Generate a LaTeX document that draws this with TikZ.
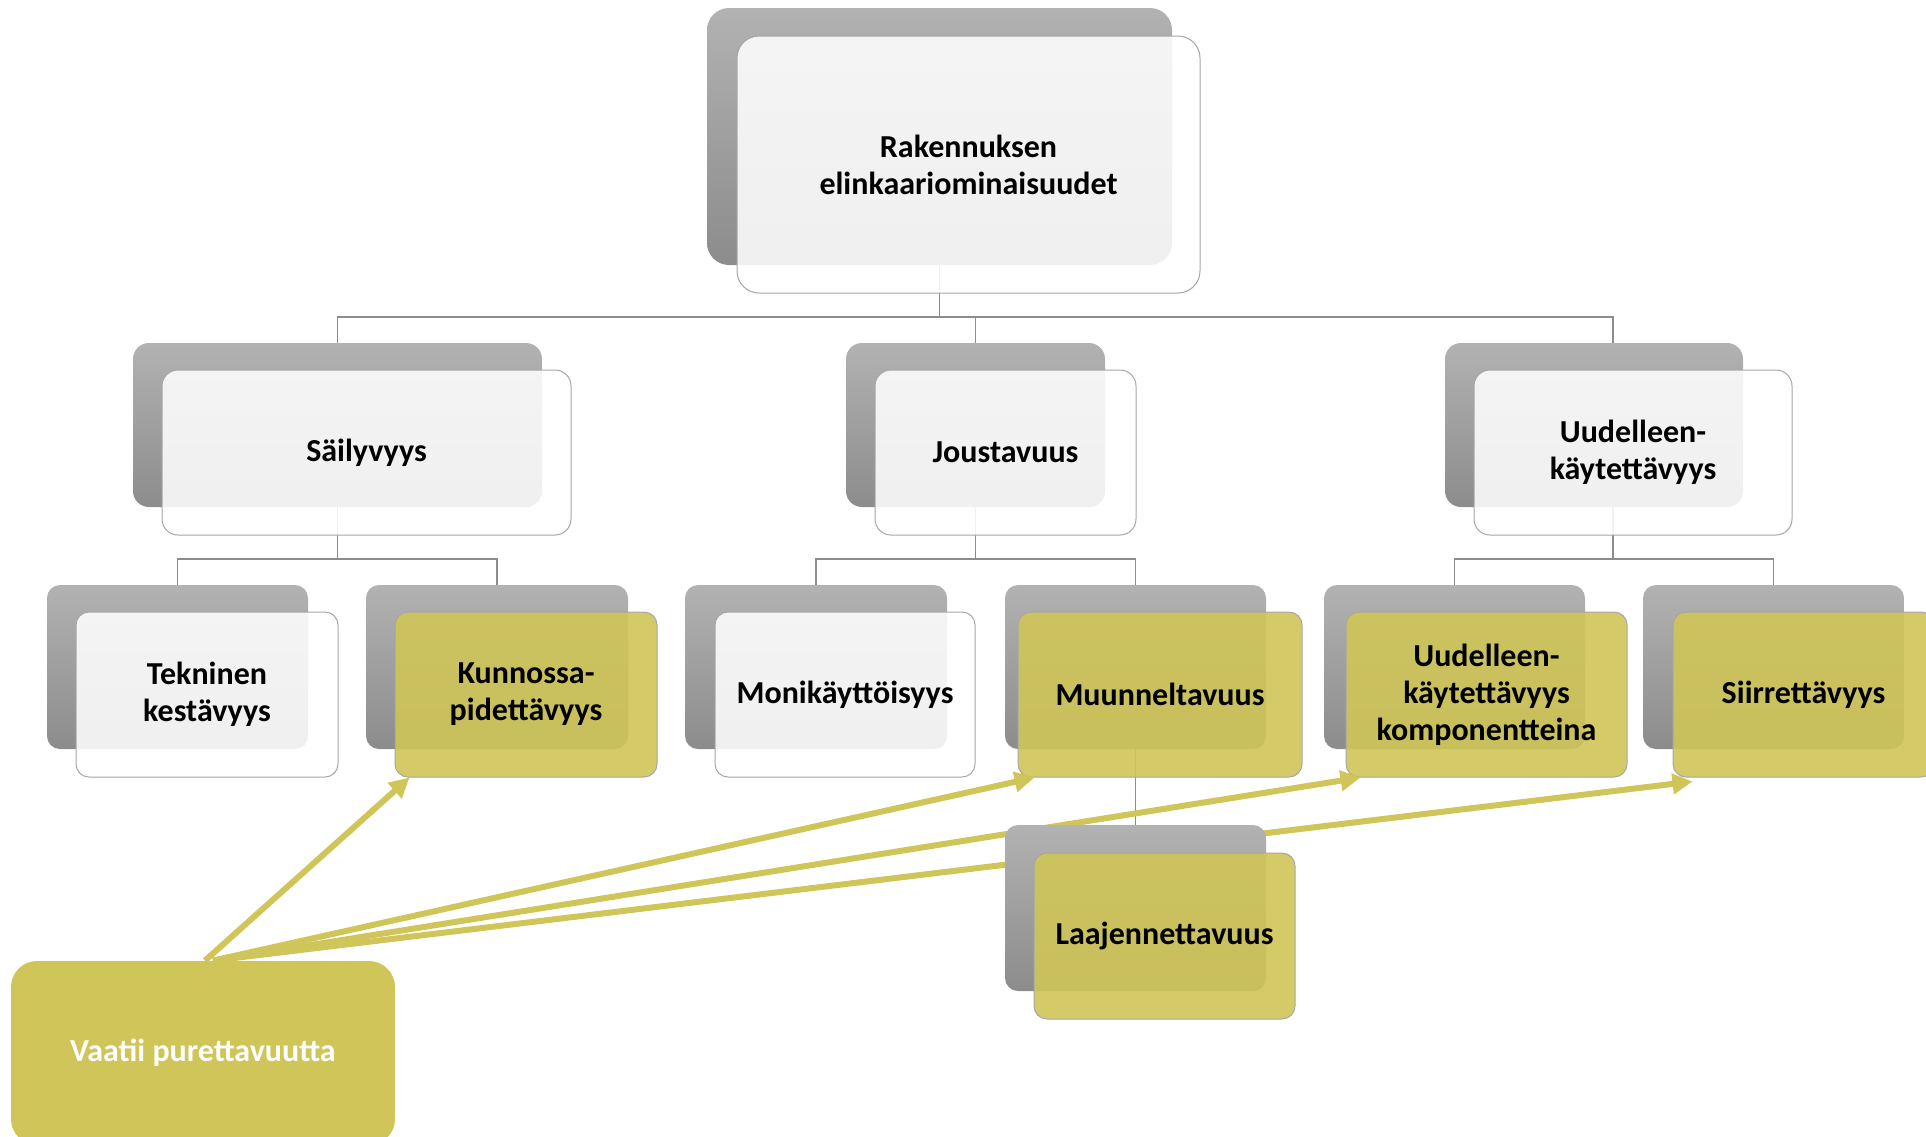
\documentclass[tikz,border=0pt]{standalone}
\usepackage{fontspec}
\setmainfont{Carlito}
\usepackage{tikz}
\usetikzlibrary{arrows.meta, backgrounds}
\definecolor{shadetop}{RGB}{178,178,178}
\definecolor{shadebot}{RGB}{140,140,140}
\definecolor{framegray}{RGB}{166,166,166}
\definecolor{conngray}{RGB}{140,140,140}
\definecolor{mustard}{RGB}{207,197,88}
\newcommand\boxfont{\fontsize{16}{18.5}\selectfont\bfseries}
\tikzstyle{backbox}   = [rectangle, rounded corners=6.5pt, inner sep=0pt, top color=shadetop, bottom color=shadebot, draw=none]
\tikzstyle{frontbox}  = [rectangle, rounded corners=6.5pt, inner sep=0pt, draw=framegray, line width=0.5pt, fill=white, fill opacity=0.87, text opacity=1, align=center, font=\boxfont]
\tikzstyle{yellowbox} = [frontbox, fill=mustard, fill opacity=0.9]
\tikzstyle{conn}      = [draw=conngray, line width=0.6pt]
\tikzstyle{needarrow} = [line width=3pt, draw=mustard, -{Triangle[length=10pt,width=10pt]}]

\begin{document}
\begin{tikzpicture}[x=0.5pt,y=-0.5pt]
      \useasboundingbox (0,0) rectangle (1926,1136);
      % Nodes
      %% Top level
      \node (top_back)   [backbox, rounded corners=11pt, minimum width=232.5pt, minimum height=128.5pt] at (939.5,136.5) {};
      \node (top)        [frontbox, rounded corners=11pt, minimum width=231.5pt, minimum height=128.5pt] at (968.5,164.5) {Rakennuksen\\elinkaariominaisuudet};
      %% Second level
      \node (saily_back) [backbox, rounded corners=8pt, minimum width=204.5pt, minimum height=82pt]   at (337.5,425) {};
      \node (saily)      [frontbox, rounded corners=8pt, minimum width=204.5pt, minimum height=82.5pt] at (366.5,452.5) {Säilyvyys};
      \node (joust_back) [backbox, rounded corners=8pt, minimum width=129.5pt, minimum height=82pt]   at (975.5,425) {};
      \node (joust)      [frontbox, rounded corners=8pt, minimum width=130.5pt, minimum height=82.5pt] at (1005.5,452.5) {Joustavuus};
      \node (reuse_back) [backbox, rounded corners=8pt, minimum width=149pt, minimum height=82pt]     at (1594,425) {};
      \node (reuse)      [frontbox, rounded corners=8pt, minimum width=159pt, minimum height=82.5pt]   at (1633,452.5) {Uudelleen-\\käytettävyys};
      %% Third level
      \node (tekn_back)  [backbox, minimum width=130.5pt, minimum height=82pt]    at (177.5,667) {};
      \node (tekn)       [frontbox, minimum width=131pt, minimum height=82.5pt]   at (207,694.5) {Tekninen\\kestävyys};
      \node (kunn_back)  [backbox, minimum width=131pt, minimum height=82pt]      at (497,667) {};
      \node (kunn)       [yellowbox, minimum width=131pt, minimum height=82.5pt]  at (526,694.5) {Kunnossa-\\pidettävyys};
      \node (moni_back)  [backbox, minimum width=131pt, minimum height=82pt]      at (816,667) {};
      \node (moni)       [frontbox, minimum width=130pt, minimum height=82.5pt]   at (845,694.5) {Monikäyttöisyys};
      \node (muun_back)  [backbox, minimum width=130.5pt, minimum height=82pt]    at (1135.5,667) {};
      \node (muun)       [yellowbox, minimum width=142pt, minimum height=82.5pt]  at (1160,694.5) {Muunneltavuus};
      \node (komp_back)  [backbox, minimum width=130.5pt, minimum height=82pt]    at (1454.5,667) {};
      \node (komp)       [yellowbox, minimum width=140.5pt, minimum height=82.5pt] at (1486.5,694.5) {Uudelleen-\\käytettävyys\\komponentteina};
      \node (siir_back)  [backbox, minimum width=130.5pt, minimum height=82pt]    at (1773.5,667) {};
      \node (siir)       [yellowbox, minimum width=130.5pt, minimum height=82.5pt] at (1803.5,694.5) {Siirrettävyys};
      %% Requirement box
      \node (vaatii)     [rectangle, rounded corners=13pt, fill=mustard, text=white, font=\boxfont, minimum width=192pt, minimum height=92pt] at (203,1053) {Vaatii purettavuutta};

      % Arrows
      \draw [needarrow] ([xshift=1pt]vaatii.north) -- ([xshift=7.5pt]kunn.south west);
      \draw [needarrow] ([xshift=5pt]vaatii.north) -- ([xshift=8.5pt]muun.south west);
      \draw [needarrow] ([xshift=5pt]vaatii.north) -- ([xshift=7.5pt]komp.south west);
      \draw [needarrow] ([xshift=5pt]vaatii.north) -- ([xshift=10pt,yshift=-2pt]siir.south west);

      %% Fourth level, over the arrows
      \node (laaj_back)  [backbox, minimum width=130.5pt, minimum height=83pt]    at (1135.5,908) {};
      \node (laaj)       [yellowbox, minimum width=130.5pt, minimum height=83pt]  at (1164.5,936) {Laajennettavuus};

      % Connectors
      \begin{pgfonlayer}{background}
        \coordinate (bus_top)   at (939.5,317);
        \coordinate (bus_saily) at (337.5,559);
        \coordinate (bus_joust) at (975.5,559);
        \coordinate (bus_reuse) at (1613,559);
        \draw [conn] (top_back.south) -- (bus_top) -| (saily_back.north);
        \draw [conn] (bus_top) -| (joust_back.north);
        \draw [conn] (bus_top) -| ([xshift=9.5pt]reuse_back.north);
        \draw [conn] (saily_back.south) -- (bus_saily) -| (tekn_back.north);
        \draw [conn] (bus_saily) -| (kunn_back.north);
        \draw [conn] (joust_back.south) -- (bus_joust) -| (moni_back.north);
        \draw [conn] (bus_joust) -| (muun_back.north);
        \draw [conn] ([xshift=9.5pt]reuse_back.south) -- (bus_reuse) -| (komp_back.north);
        \draw [conn] (bus_reuse) -| (siir_back.north);
        \draw [conn] (muun_back.south) -- (laaj_back.north);
      \end{pgfonlayer}
\end{tikzpicture}
\end{document}
